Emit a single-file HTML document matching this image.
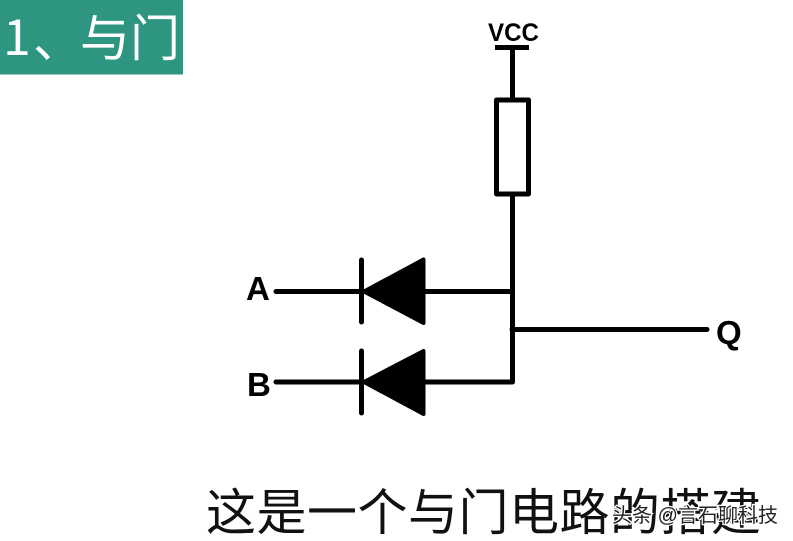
<!DOCTYPE html>
<html>
<head>
<meta charset="utf-8">
<style>
html,body{margin:0;padding:0;background:#fff}
svg{display:block}
</style>
</head>
<body>
<svg width="793" height="541" viewBox="0 0 793 541" xmlns="http://www.w3.org/2000/svg">
<rect width="793" height="541" fill="#fff"/>
<rect x="0" y="0" width="183" height="74.500" fill="#2e9581"/>
<g font-family="'Noto Sans CJK SC',sans-serif" font-size="50" fill="#fff">
<text x="3" y="55">1</text>
<text x="33" y="57">、</text>
<text x="80" y="56" textLength="100">与门</text>
</g>
<g stroke="#000" stroke-width="5" fill="none" stroke-linecap="round" stroke-linejoin="round">
<line x1="495" y1="47.500" x2="529" y2="47.500" stroke-linecap="butt"/>
<line x1="512.500" y1="48" x2="512.500" y2="100"/>
<rect x="496.500" y="100" width="32" height="94"/>
<path d="M512.500 194V382H276"/>
<path d="M276 291.500H512"/>
<path d="M512 329.500H707"/>
<line x1="361.500" y1="260" x2="361.500" y2="322"/>
<line x1="361.500" y1="351" x2="361.500" y2="413"/>
</g>
<g fill="#000" stroke="#000" stroke-width="4" stroke-linejoin="round">
<polygon points="364,291.500 423.500,259.500 423.500,323"/>
<polygon points="364,382 423.500,351 423.500,414"/>
</g>
<g font-family="'Liberation Sans',sans-serif" font-weight="bold" fill="#000">
<text x="488" y="41" font-size="25" textLength="51" lengthAdjust="spacingAndGlyphs">VCC</text>
<text x="246" y="300" font-size="33">A</text>
<text x="247" y="396" font-size="33">B</text>
<text x="716" y="344" font-size="33">Q</text>
</g>
<text x="206" y="530" font-family="'Noto Sans CJK SC',sans-serif" font-size="50" fill="#111" textLength="555">这是一个与门电路的搭建</text>
<text x="612" y="522" font-family="'Liberation Sans','Noto Sans CJK SC',sans-serif" font-size="20" fill="#222" stroke="#fff" stroke-width="2.500" paint-order="stroke" textLength="166">头条 @言石聊科技</text>
</svg>
</body>
</html>
